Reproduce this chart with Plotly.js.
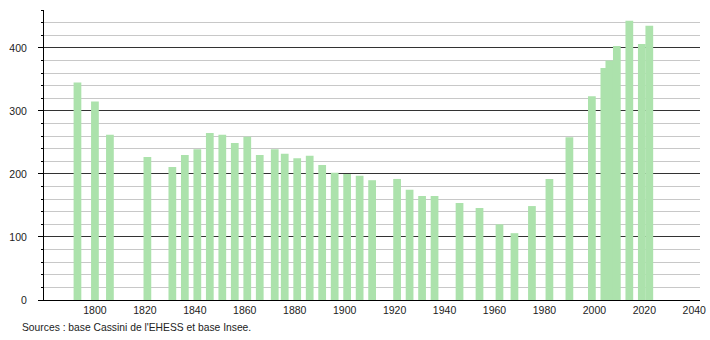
<!DOCTYPE html>
<html>
<head>
<meta charset="utf-8">
<script src="https://cdn.plot.ly/plotly-3.0.1.min.js"></script>
<style>html,body{margin:0;padding:0;background:#fff;}#chart{width:710px;height:340px;}</style>
</head>
<body>
<div id="chart"></div>
<script>
const years = [1793,1800,1806,1821,1831,1836,1841,1846,1851,1856,1861,1866,1872,1876,1881,1886,1891,1896,1901,1906,1911,1921,1926,1931,1936,1946,1954,1962,1968,1975,1982,1990,1999,2004,2006,2009,2014,2019,2022];
const population = [345,315,262,227,211,230,239,265,262,249,259,230,239,232,225,229,214,202,200,197,190,192,175,165,165,154,146,120,106,149,192,258,323,368,380,403,443,406,435];
const xTicks = [1800,1820,1840,1860,1880,1900,1920,1940,1960,1980,2000,2020,2040];
const yTicks = [0,100,200,300,400];
const sourceText = "Sources : base Cassini de l'EHESS et base Insee.";

const font = {family: 'Liberation Sans, Arial, sans-serif', size: 10.5, color: '#222'};

Plotly.newPlot('chart', [{
  type: 'bar',
  x: years,
  y: population,
  width: 3.1,
  marker: {color: 'rgb(172,226,172)', line: {width: 0}},
  hoverinfo: 'x+y'
}], {
  width: 710, height: 340,
  margin: {l: 44, r: 10, t: 10, b: 40, pad: 0},
  paper_bgcolor: '#fff', plot_bgcolor: '#fff',
  font: font,
  showlegend: false,
  xaxis: {
    range: [1779.6, 2042.3],
    tickvals: xTicks,
    ticks: '',
    showgrid: false,
    zeroline: false,
    showline: true,
    linecolor: '#000',
    linewidth: 1,
    tickfont: font,
    fixedrange: true
  },
  yaxis: {
    range: [0, 460],
    tickvals: yTicks,
    ticks: 'outside',
    ticklen: 5,
    tickcolor: '#000',
    ticklabelstandoff: 9,
    showgrid: true,
    gridcolor: '#333',
    gridwidth: 1,
    zeroline: false,
    showline: true,
    linecolor: '#000',
    linewidth: 1,
    tickfont: font,
    minor: {dtick: 20, tick0: 0, showgrid: true, gridcolor: '#c8c8c8', gridwidth: 1, ticks: 'outside', ticklen: 2.5, tickcolor: '#000'},
    fixedrange: true
  },
  annotations: [{
    text: sourceText,
    xref: 'paper', yref: 'paper',
    x: (20 - 44) / 656, y: -(27 / 290),
    xanchor: 'left', yanchor: 'middle',
    showarrow: false,
    font: {family: font.family, size: 10.3, color: '#222'}
  }]
}, {displayModeBar: false, staticPlot: true});
</script>
</body>
</html>
